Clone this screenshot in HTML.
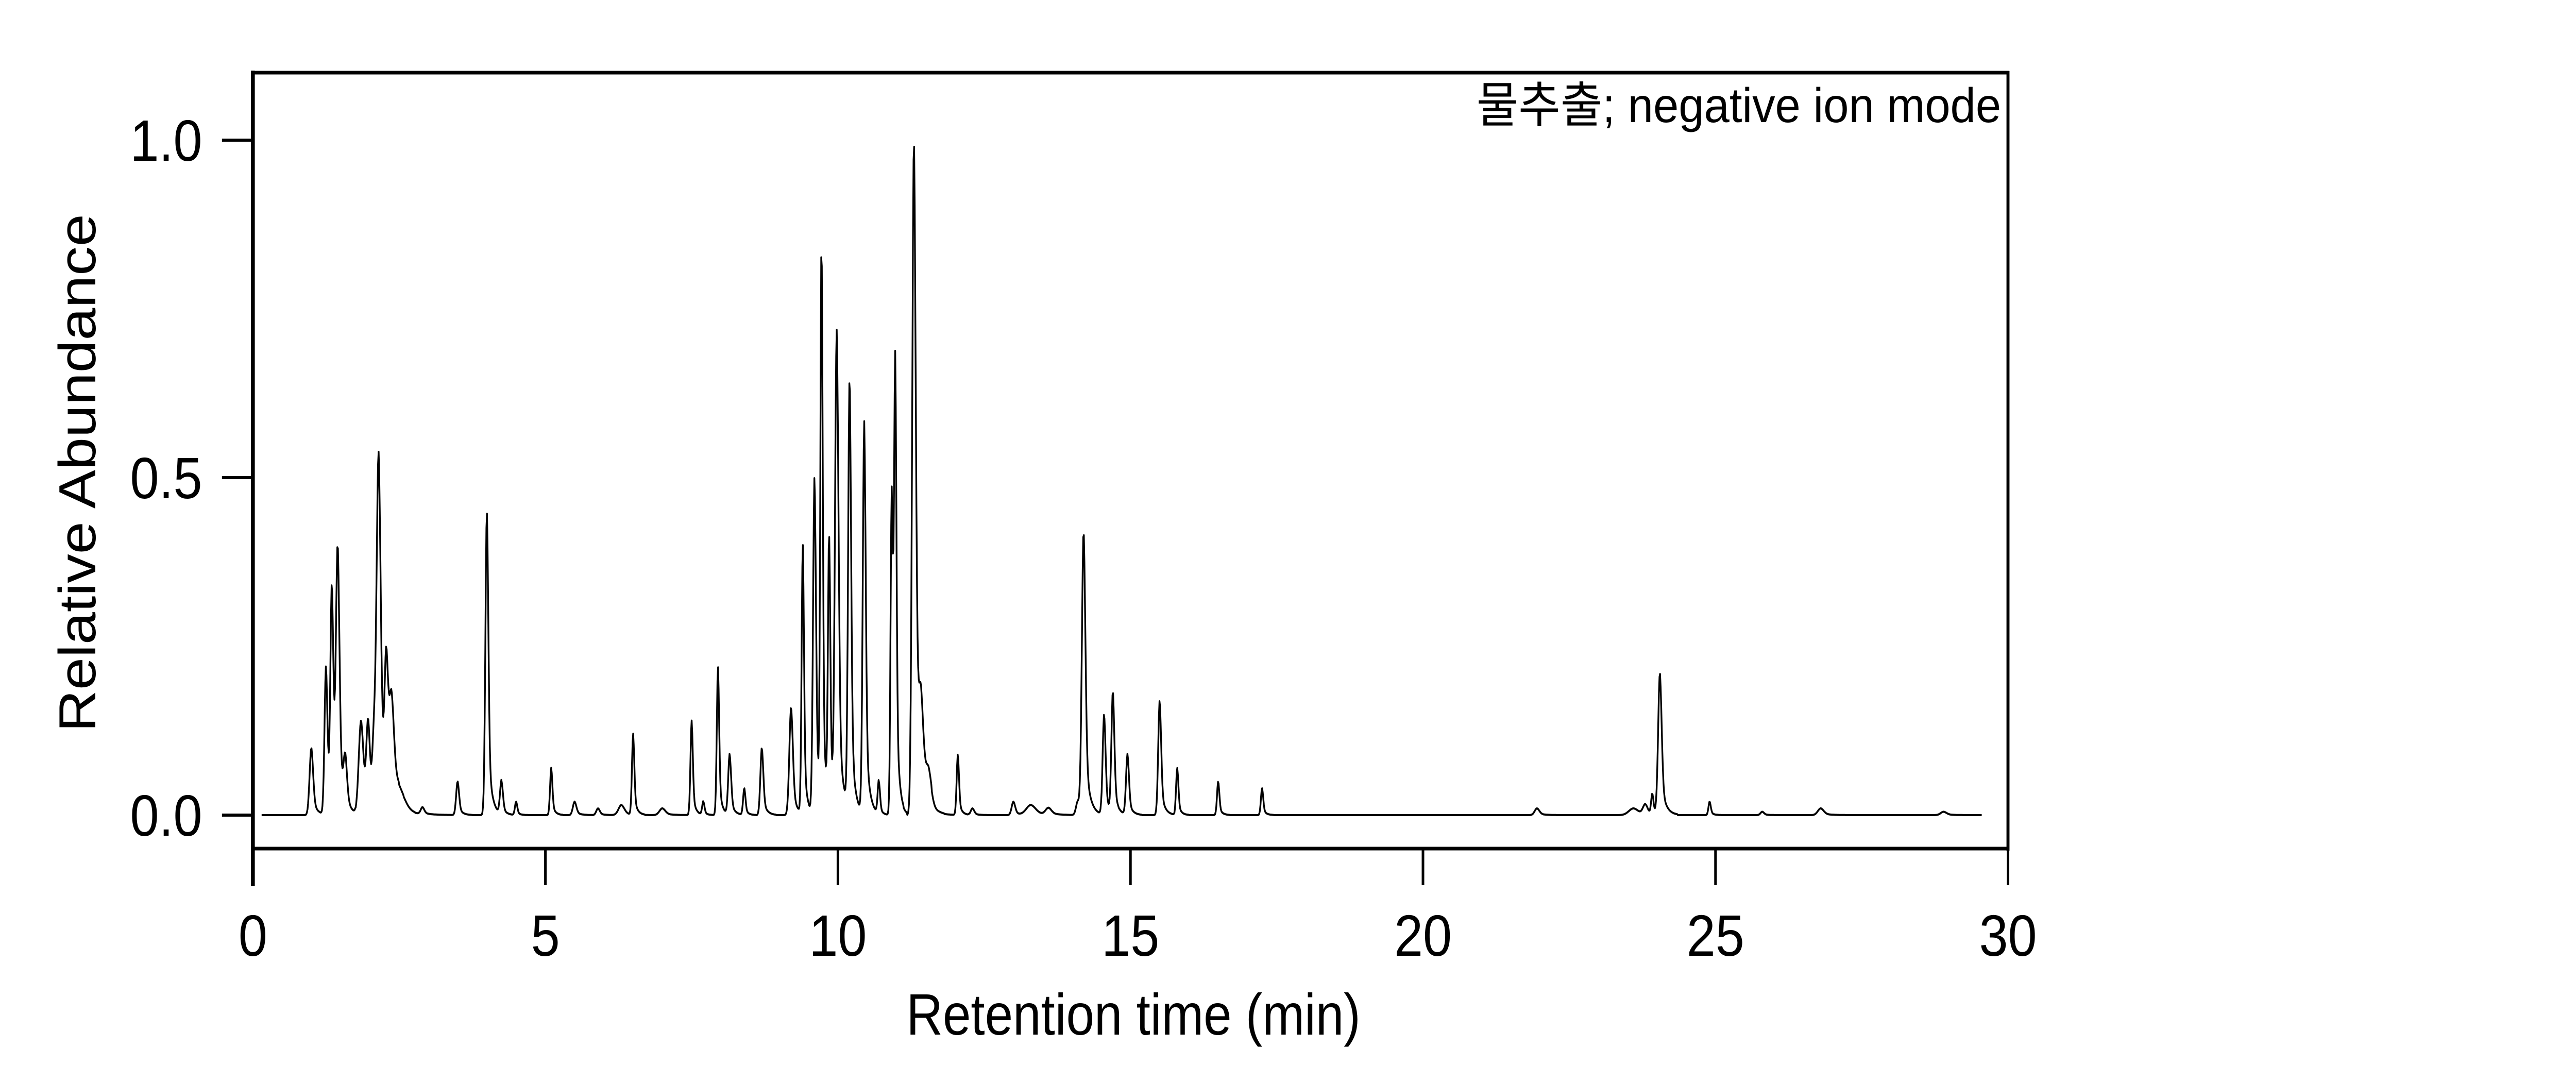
<!DOCTYPE html>
<html><head><meta charset="utf-8"><style>
html,body{margin:0;padding:0;background:#fff;width:100%;height:100%;overflow:hidden;}
svg{display:block;position:absolute;left:0;top:0;width:100%;height:100%;}
text{font-family:"Liberation Sans","Noto Sans CJK KR",sans-serif;fill:#000;}
</style></head><body>
<svg id="s" viewBox="0 0 6000 2100" preserveAspectRatio="none" xmlns="http://www.w3.org/2000/svg">
<rect x="0" y="0" width="6000" height="2100" fill="#fff"/>
<path id="trace" d="" fill="none" stroke="#000" stroke-width="4" stroke-linejoin="round"/>
<line x1="585" y1="141" x2="4680" y2="141" stroke="#000" stroke-width="7"/>
<line x1="585" y1="1647" x2="4680" y2="1647" stroke="#000" stroke-width="7"/>
<line x1="4677" y1="138" x2="4677" y2="1651" stroke="#000" stroke-width="7"/>
<line x1="589" y1="137" x2="589" y2="1720" stroke="#000" stroke-width="9"/>
<g stroke="#000" stroke-width="6">
<line x1="517" y1="272" x2="589" y2="272"/>
<line x1="517" y1="927" x2="589" y2="927"/>
<line x1="517" y1="1582" x2="589" y2="1582"/>
</g>
<g stroke="#000" stroke-width="6">
<line x1="589" y1="1647" x2="589" y2="1718"/>
<line x1="1270.35" y1="1647" x2="1270.35" y2="1718"/>
<line x1="1951.7" y1="1647" x2="1951.7" y2="1718"/>
<line x1="2633.05" y1="1647" x2="2633.05" y2="1718"/>
<line x1="3314.4" y1="1647" x2="3314.4" y2="1718"/>
<line x1="3995.75" y1="1647" x2="3995.75" y2="1718"/>
<line x1="4677" y1="1647" x2="4677" y2="1718"/>
</g>
<g font-size="113" text-anchor="end">
<text transform="translate(471,312) scale(1.07,1)">1.0</text>
<text transform="translate(471,967) scale(1.07,1)">0.5</text>
<text transform="translate(471,1622) scale(1.07,1)">0.0</text>
</g>
<g font-size="113" text-anchor="middle">
<text transform="translate(589,1855) scale(1.07,1)">0</text>
<text transform="translate(1270.35,1855) scale(1.07,1)">5</text>
<text transform="translate(1951.7,1855) scale(1.07,1)">10</text>
<text transform="translate(2633.05,1855) scale(1.07,1)">15</text>
<text transform="translate(3314.4,1855) scale(1.07,1)">20</text>
<text transform="translate(3995.75,1855) scale(1.07,1)">25</text>
<text transform="translate(4677,1855) scale(1.07,1)">30</text>
</g>
<text transform="translate(2640,2008) scale(1.04,1)" font-size="113" text-anchor="middle">Retention time (min)</text>
<text transform="translate(222,918) scale(1.07,1) rotate(-90)" font-size="113" text-anchor="middle">Relative Abundance</text>
<text transform="translate(4661,237) scale(1.12,1)" font-size="95" text-anchor="end">물추출; negative ion mode</text>
</svg>
<script>
var X0=589,PX=136.27,Y0=1582,PY=1310;
var P=[[1.0,.10,.03],[1.25,.22,.025],[1.35,.33,.025],[1.45,.38,.03],[1.58,.07,.03],[1.85,.14,.04],[1.97,.13,.03],[2.07,.10,.03],[2.15,.52,.035],[2.28,.2,.03],[2.37,.14,.04],[2.5,.03,.1],[2.9,.01,.03],[3.5,.05,.025],[4.0,.45,.025],[4.25,.05,.025],[4.5,.02,.02],[5.1,.07,.02],[5.5,.02,.03],[5.9,.01,.03],[6.3,.015,.05],[6.5,.12,.02],[7.0,.01,.05],[7.5,.14,.02],[7.7,.02,.02],[7.95,.22,.02],[8.15,.09,.025],[8.4,.04,.02],[8.7,.10,.025],[9.2,.16,.03],[9.4,.40,.02],[9.6,.50,.025],[9.72,.83,.02],[9.85,.40,.02],[9.98,.71,.03],[10.2,.64,.025],[10.45,.58,.025],[10.7,.05,.02],[10.92,.48,.02],[10.98,.64,.02],[11.3,1.0,.03],[11.42,.13,.04],[11.55,.05,.05],[12.05,.09,.02],[12.3,.01,.03],[13.0,.02,.03],[13.3,.015,.08],[13.6,.01,.05],[14.1,.02,.03],[14.2,.42,.03],[14.55,.15,.025],[14.7,.18,.025],[14.95,.09,.025],[15.5,.17,.025],[15.8,.07,.02],[16.5,.05,.02],[17.25,.04,.02],[21.95,.01,.04],[23.6,.01,.08],[23.8,.015,.04],[23.92,.03,.02],[24.05,.21,.03],[24.9,.02,.02],[25.8,.005,.03],[26.8,.01,.05],[28.9,.005,.05]];
var d='';
for(var k=0;k<=3000;k++){var t=0.15+k*0.0098;if(t>29.95)t=29.95;var y=0;
for(var j=0;j<P.length;j++){var u=(t-P[j][0])/P[j][2];if(u>-6&&u<10){var g=u<0?Math.exp(-u*u/2):Math.exp(-u*u/2)*0.7+0.3*Math.exp(-u/2.5);y+=P[j][1]*g;}}
d+=(k?'L':'M')+(X0+t*PX).toFixed(1)+' '+(Y0-y*PY).toFixed(1);}
document.getElementById('trace').setAttribute('d',d);
</script>
</body></html>
